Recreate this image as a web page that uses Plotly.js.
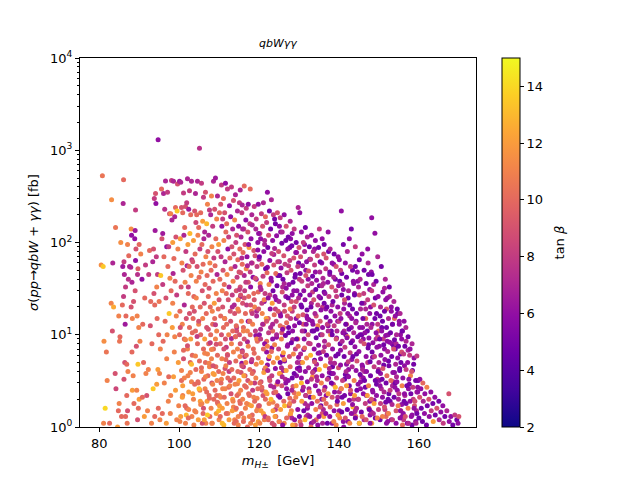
<!DOCTYPE html>
<html><head><meta charset="utf-8">
<script src="https://cdn.plot.ly/plotly-3.0.1.min.js"></script>
<style>html,body{margin:0;padding:0;background:#fff}#chart{width:640px;height:480px}</style>
</head><body><div id="chart"></div>
<script>
// ---- data (m_H± in GeV, sigma in fb, tan beta) ----
const mH_80 = [80.5,81.0,80.8,81.2,81.5,81.1,81.8,82.0,82.6,83.0,83.1,83.6,83.3,83.4,84.0,84.2,84.1,84.6,85.0,85.2,84.9,85.1,85.6,85.4,84.8,
86.1,86.0,85.9,86.3,86.2,86.6,86.1,85.8,86.5,86.7,86.4,86.9,86.2,86.6,87.1,87.0,87.3,87.6,87.1,87.4,87.2,86.9,88.0,88.1,87.9,88.2,88.6,88.0,88.3,88.2,88.5,88.3,88.7,89.1,89.0,88.9,89.2,89.1,89.6,89.0,89.5,89.3,89.7,89.4,89.6,90.0,89.8,89.9,90.0,89.7];
const sig_80 = [57,55,530,8.5,1.6,1.1,6.5,3.2,1.1,22,290,20,11,60,3.8,2.6,145,1.0,1.8,9.5,16,8.5,1.3,100,1.5,
480,265,55,45,62,33,26,21,13,16,5,4.8,3.3,1.3,1.5,1.1,40,55,95,72,4,2.2,140,120,54,37,23,20,15,6.5,3.6,2.5,1.8,225,135,110,85,64,45,30,16,7.5,4.8,2.5,1.2,2.0,1.6,12,95,52];
const tb_80 = [11.5,13.5,10.5,11.5,14,11,10.5,11,10,11,11.5,12.5,9,7,9,8.5,10.5,12,11,10,11,10.5,10,11.5,10,
10,7,6.5,7,8,8,8,10,6.5,10,9,10,9,10,9,10.5,7.5,7,11,10,11,10,11.5,6,7,7,9,9,11,10,11,12,10,8,6.5,6,9,6,7.5,9,11,9,13.5,11,9,12,10,11,10,9.5];

const mH_90 = [90.4,90.7,90.2,90.9,91.1,90.8,91.3,91.6,91.4,91.7,92.1,91.9,92.3,92.6,92.4,92.8,93.1,92.9,93.2,93.6,
93.4,93.7,93.5,93.9,94.1,93.8,94.2,94.0,94.3,94.6,94.4,93.9,94.5,94.7,94.4,94.75,94.9,95.1,94.8,95.2,95.0,95.3,
95.6,95.4,95.7,95.9,96.1,95.9,96.2,96.0,96.3,95.8,96.6,96.4,96.7,96.5,96.9,97.1,96.9,97.2,97.0,97.3,
96.8,97.6,97.4,97.7,97.5,97.4,97.9,98.1,97.9,98.2,98.0,98.3,97.8,98.6,98.4,98.7,98.5,98.4,98.8,98.6,
99.1,98.9,99.2,99.0,99.3,98.9,99.1,99.4,99.6,99.5,99.7,99.4,99.8,100.1,99.9];
const sig_90 = [75,40,8.5,13,5,2.1,1.3,57,25,3.8,1.5,2.2,4.2,82,45,12.5,1.1,23,8,85,
62,28,2.6,1.3,340,300,265,135,70,45,33,21,15,4.2,2.9,1300,10,3.8,1.6,1.2,23,7,
380,44,110,35,340,125,70,8.5,3.0,1.4,465,230,25,14,5.5,350,90,55,10,1.9,
1.1,205,90,41,17,3.5,2.2,470,205,175,30,12,1.4,460,100,67,46,22,6.5,3.5,
240,190,115,38,16,9.5,2.5,1.2,430,220,85,27,5,10,1.7];
const tb_90 = [11,6,11,10,10,10,12,8,10,11,11,9,11,10,8,9,11,10,10,9,
7,9,13.5,10,9,8,6,6.5,8,8,11,10,10,12,12,6,10,11,10,11,10.5,11,
10,13.5,9,8,7,6.5,10,10,11,10,7,7.5,9,10,11,8,6,10,11,11,
12,9,8,11,13.5,10,11,8,11,7,10,12,11,7,12,10,7,11,11,12,
10,7,9,10,11,11,12,11,9,13.5,11,8,12,10,11];

const mH_100 = [100.1,100.4,100.6,100.3,100.7,100.5,100.2,100.6,100.4,
101.1,100.9,101.2,101.0,101.3,100.8,101.1,100.9,
101.6,101.4,101.7,101.5,101.3,101.6,
102.1,101.9,102.2,102.0,102.3,101.8,102.1,102.2,101.9,
102.6,102.4,102.7,102.5,102.3,102.6,102.8,102.4,
103.1,102.9,103.2,103.0,103.3,102.9,103.1,103.2,
103.6,103.4,103.7,103.5,103.3,103.6,
104.1,103.9,104.2,104.0,104.3,103.8,104.1,104.2,103.9,
104.6,104.4,104.7,104.5,104.3,104.6,104.8,
105.1,104.9,105.2,105.0,105.3,104.9,105.1,105.2,104.8,
105.6,105.4,105.7,105.5,105.8,105.4,105.6,105.7,
106.1,105.9,106.2,106.0,106.3,105.9,106.1,106.2,106.0,
106.6,106.4,106.7,106.5,106.8,106.4,106.6,106.5,106.7,
107.1,106.9,107.2,107.0,107.3,106.9,107.1,107.2,107.0,
107.6,107.4,107.7,107.5,107.8,107.4,107.6,107.5,107.7,
108.1,107.9,108.2,108.0,108.3,107.9,108.1,108.2,108.0,
108.6,108.4,108.7,108.5,108.8,108.4,108.6,108.5,108.7,108.3,
109.1,108.9,109.2,109.0,109.3,108.9,109.1,109.2,109.0,109.3,
109.6,109.4,109.7,109.5,109.8,109.4,109.6,109.5,109.7,
110.1,109.9,110.2,110.0,110.3,109.9,110.1,110.0];
const sig_100 = [460,450,240,110,60,33,18,3.2,1.3,
345,210,120,50,21,13,5.5,2.2,
245,145,80,37,9,1.1,
490,270,95,56,28,15,7,3.6,1.6,
365,230,125,55,33,12,5,2.4,
460,200,65,44,20,9,3.1,1.3,
105,62,26,15,6,2,
340,220,165,75,38,18,11,4.2,1.5,
460,200,120,55,25,8,3,
1050,145,85,42,20,13,5.2,2.5,1.2,
440,210,95,48,30,10,4,1.8,
310,170,110,58,22,15,7,3.3,1.4,
350,130,70,35,17,9,5,2.6,1.1,
260,160,80,44,26,12,6.2,3.6,1.9,
225,120,60,32,20,8,4.5,2.2,1.3,
320,200,90,50,18,10,5.5,3,1.6,
460,150,68,38,22,13,7,3.8,2,1.1,
500,230,110,56,28,15,9,4.5,2.5,1.4,
320,180,80,45,19,11,6,3.2,1.8,
210,95,40,24,8,4,2.2,1.2];
const tb_100 = [6.5,7,9,12,11,9,10,10,12,
8,10,7,9,7,11,9,11,
9,10,8,11,10,11,
7,8,12,7,10,9,11,11,10,
8,6.5,13,10,8,10,10,12,
7,10,8,11,10,12,11,11,
12,9,10,10,10,11,
7,9,8.5,10,11,9,10,10,11,
7,10,11,9,11,10,10,
7.5,10,8,10,10,11,10,11,12,
8,10,10,11,9,10,11,11,
8,12,7,10,9,11,10,10,10,
9,7,11,10,10,12,10,11,11,
11,13,9,10,10,9,11,10,12,
8,7,11,9,10,10,11,10,10,
11,7,11,10,11,10,11,9,11,
7,8,8,10,12,10,10,12,10,11,
6.5,9,10,10,11,10,11,10,10,12,
7,11,9,7,10,11,10,11,10,
10,12,10,9,10,10,11,11];

const mH_110 = [110.6,110.4,110.7,110.5,110.8,110.4,110.6,110.7,110.5,110.8,
111.1,110.9,111.2,111.0,111.3,110.9,111.1,111.2,111.0,111.3,110.8,
111.6,111.4,111.7,111.5,111.8,111.4,111.6,111.7,111.5,111.8,
112.1,111.9,112.2,112.0,112.3,111.9,112.1,112.2,112.0,
112.6,112.4,112.7,112.5,112.8,112.4,112.6,112.7,112.5,
113.1,112.9,113.2,113.0,113.3,112.9,113.1,113.2,113.0,113.3,
113.6,113.4,113.7,113.5,113.8,113.4,113.6,113.7,113.5,113.8,
114.1,113.9,114.2,114.0,114.3,113.9,114.1,114.2,114.0,114.3,
114.6,114.4,114.7,114.5,114.8,114.4,114.6,114.7,114.5,114.8,
115.1,114.9,115.2,115.0,115.3,114.9,115.1,115.2,115.0,115.3,114.8,
115.3,115.7,115.5,115.8,115.4,115.6,115.3,115.7,115.4,115.6,
115.8,116.2,116.0,116.3,115.9,116.1,115.8,116.2,115.9,116.1,
116.3,116.7,116.5,116.8,116.4,116.6,116.3,116.7,116.4,116.6,
116.8,117.2,117.0,117.3,116.9,117.1,116.8,117.2,116.9,117.1,
117.3,117.7,117.5,117.8,117.4,117.6,117.3,117.7,117.4,117.6,
117.8,118.2,118.0,118.3,117.9,118.1,117.8,118.2,117.9,118.1,
118.3,118.7,118.5,118.8,118.4,118.6,118.3,118.7,118.4,
118.8,119.2,119.0,119.3,118.9,119.1,118.8,119.2,118.9,119.1,
119.3,119.7,119.5,119.8,119.4,119.6,119.3,119.7,119.4,
119.8,120.2,120.0,120.3,119.9,120.1,119.8,120.2,119.9];
const sig_110 = [420,260,150,70,30,16,10,5.5,3,1.6,
300,180,105,50,35,20,12,7,3.8,2.1,1.1,
440,210,130,62,28,15,9,4.6,2.6,1.4,
380,160,85,45,24,13,6,3.4,1.8,
250,115,68,33,18,10,5,2.8,1.2,
400,190,90,52,27,14,8,4.2,2.3,1.5,
285,140,75,38,21,11,6.5,3.4,1.9,1.1,
330,175,100,55,30,17,9.5,5.2,2.9,1.6,
220,120,65,42,24,12,7,4,2.2,1.3,
270,150,85,48,33,18,10,5.8,3.2,1.8,1.05,
370,210,115,58,27,14,8,4.6,2.5,1.4,
255,140,78,44,22,12,6.5,3.6,2,1.15,
410,175,95,52,30,17,9,5,2.8,1.6,
235,130,70,37,21,11,6,3.2,1.8,1.0,
260,160,88,48,26,14,7.5,4.2,2.3,1.3,
380,200,110,60,33,18,10,5.4,3,1.7,
155,82,42,24,13,7,3.8,2.1,1.2,
245,140,72,40,20,11,6.3,3.4,1.9,1.05,
180,100,55,29,16,8.5,4.8,2.6,1.5,
260,125,66,36,19,10,5.6,3,1.7];
const tb_110 = [8,9,6,8,11,10,9,11,10,12,
10,8,11,9,10,9,10,9,11,10,13,
6,9,10,7,10,11,9,11,11,10,
8,10,6,11,9,10,9,10,11,
6,8,10,7,9,11,8,11,12,
8,6,9,10,8,9,11,10,9,12,
9,7,9,11,7,10,11,10,11,10,
7,11,8,7,9,9,10,10,11,10,
7,9,10,8,11,8,11,10,10,11,
8,6,10,9,9,10,9,11,12,10,11,
7,8,7,10,9,11,9,9,11,10,
7,8,10,7,9,10,9,12,11,10,
10,6,9,11,8,10,9,11,10,11,
8,9,6,9,8,11,10,9,11,10,
6,8,12,8,10,9,11,10,10,11,
10,7,6,9,6,10,10,8,11,12,
7,9,6,9,11,10,10,11,10,
8,7,9,6,11,8,10,11,10,12,
8,6,8,10,7,10,11,10,11,
6,8,7,11,9,6,10,10,9];

const mH_120 = [120.6,120.4,120.7,120.5,120.8,120.4,120.6,120.7,120.5,
121.1,120.9,121.2,121.0,121.3,120.9,121.1,121.2,121.0,121.3,
121.6,121.4,121.7,121.5,121.8,121.4,121.6,121.7,121.5,
122.1,121.9,122.2,122.0,122.3,121.9,122.1,122.2,122.0,122.3,
122.6,122.4,122.7,122.5,122.8,122.4,122.6,122.7,122.5,
123.1,122.9,123.2,123.0,123.3,122.9,123.1,123.2,123.0,123.3,
123.6,123.4,123.7,123.5,123.8,123.4,123.6,123.7,123.5,
124.1,123.9,124.2,124.0,124.3,123.9,124.1,124.2,124.0,
124.6,124.4,124.7,124.5,124.8,124.4,124.6,124.7,124.5,
125.1,124.9,125.2,125.0,125.3,124.9,125.1,125.2,125.0,
125.3,125.7,125.5,125.8,125.4,125.6,125.3,125.7,125.4,
125.8,126.2,126.0,126.3,125.9,126.1,125.8,126.2,125.9,
126.3,126.7,126.5,126.8,126.4,126.6,126.3,126.7,126.4,
126.8,127.2,127.0,127.3,126.9,127.1,126.8,127.2,126.9,
127.3,127.7,127.5,127.8,127.4,127.6,127.3,127.7,
127.8,128.2,128.0,128.3,127.9,128.1,127.8,128.2,127.9,
128.3,128.7,128.5,128.8,128.4,128.6,128.3,128.7,128.4,
128.8,129.2,129.0,129.3,128.9,129.1,128.8,129.2,128.9,
129.3,129.7,129.5,129.8,129.4,129.6,129.3,129.7,
129.8,130.2,130.0,130.3,129.9,130.1,129.8,130.2,129.9,130.1];
const sig_120 = [205,110,58,31,17,9,5,2.7,1.5,
270,150,80,43,24,13,7,3.9,2.2,1.2,
190,95,52,28,15,8,4.4,2.4,1.3,
350,165,88,47,25,14,7.5,4.1,2.3,1.25,
220,120,64,35,19,10.5,5.8,3.2,1.8,
290,140,76,41,22,12,6.6,3.6,2,1.1,
200,105,57,30,16.5,9,5,2.7,1.5,
160,86,46,26,14,7.8,4.3,2.4,1.3,
210,118,62,34,18,10,5.6,3.1,1.7,
150,80,44,23,12.5,7,3.8,2.1,1.15,
185,98,53,29,16,9,5,2.8,1.55,
130,72,40,21,11.5,6.4,3.5,1.9,1.05,
200,105,58,32,18,9.8,5.4,3,1.7,
150,85,47,25,13.5,7.5,4.1,2.3,1.25,
115,64,35,19,10.5,5.8,3.2,1.8,
170,92,50,27,15,8.2,4.5,2.5,1.4,
125,68,37,20,11,6.2,3.4,1.9,1.05,
140,78,42,23,12.5,7,3.8,2.1,1.2,
100,55,30,16,9,5,2.8,1.55,
240,210,88,46,25,13.5,7.5,4.1,2.3,1.3];
const tb_120 = [8,6,10,7,11,8,12,10,12,
7,9,6,8,11,7,10,12,9,11,
10,7,5,8,12,6,11,12,8,
6,8,5,10,6,9,11,7,12,10,
5,9,6,11,6,8,12,9,11,
7,5,8,6,12,7,10,8,13,9,
8,6,9,5,10,6,11,7,12,
5,7,10,6,8,11,6,10,12,
9,6,8,5,9,7,12,6,10,
6,9,5,7,10,8,12,5,11,
8,5,6,9,6,11,5,9,12,
7,9,5,8,6,12,7,10,6,
6,5,8,6,9,5,11,6,13,
9,6,8,5,10,6,12,5,10,
5,8,6,11,5,9,6,11,
7,5,9,6,8,5,10,7,12,
6,9,5,8,6,11,5,9,12,
8,6,5,9,6,8,5,11,6,
5,8,6,10,5,7,12,6,
7,6,9,5,7,5,10,6,12,5];

const mH_130 = [130.6,130.4,130.7,130.5,130.8,130.4,130.6,130.7,130.5,
131.1,130.9,131.2,131.0,131.3,130.9,131.1,131.2,
131.6,131.4,131.7,131.5,131.8,131.4,131.6,131.7,131.5,
132.1,131.9,132.2,132.0,132.3,131.9,132.1,132.2,
132.6,132.4,132.7,132.5,132.8,132.4,132.6,132.7,
133.1,132.9,133.2,133.0,133.3,132.9,133.1,133.2,133.0,
133.6,133.4,133.7,133.5,133.8,133.4,133.6,133.7,
134.1,133.9,134.2,134.0,134.3,133.9,134.1,134.2,
134.6,134.4,134.7,134.5,134.8,134.4,134.6,134.7,
135.1,134.9,135.2,135.0,135.3,134.9,135.1,135.2,135.0,
135.3,135.7,135.5,135.8,135.4,135.6,135.3,
135.8,136.2,136.0,136.3,135.9,136.1,135.8,136.2,135.9,
136.3,136.7,136.5,136.8,136.4,136.6,136.3,136.7,
136.8,137.2,137.0,137.3,136.9,137.1,136.8,
137.3,137.7,137.5,137.8,137.4,137.6,137.3,137.7,
137.8,138.2,138.0,138.3,137.9,138.1,137.8,
138.3,138.7,138.5,138.8,138.4,138.6,138.3,138.7,
138.8,139.2,139.0,139.3,138.9,139.1,138.8,
139.3,139.7,139.5,139.8,139.4,139.6,139.3,
139.8,140.2,140.0,140.3,139.9,140.1,139.8];
const sig_130 = [130,70,38,21,11,6.2,3.4,1.9,1.05,
100,56,30,16.5,9,5,2.7,1.5,
145,80,44,24,13,7.2,4,2.2,1.2,
115,62,34,18.5,10,5.6,3.1,1.7,
90,49,27,14.5,8,4.4,2.4,1.3,
120,66,36,20,11,6,3.3,1.8,1.0,
80,43,24,13,7,3.9,2.1,1.15,
105,57,31,17,9.3,5.1,2.8,1.55,
72,39,21,11.5,6.3,3.5,1.9,1.05,
140,88,48,26,14,7.7,4.2,2.3,1.3,
62,34,18.5,10,5.5,3,1.65,
110,75,41,22,12,6.6,3.6,2,1.1,
95,52,28,15.5,8.5,4.6,2.5,1.4,
68,37,20,11,6,3.3,1.8,
130,48,26,14,7.8,4.3,2.3,1.3,
85,33,18,10,5.5,3,1.65,
60,42,23,12.5,7,3.8,2.1,1.15,
75,30,16,9,4.9,2.7,1.5,
55,20,11,6.2,3.4,1.9,1.05,
70,38,14,8,4.4,2.4,1.35];
const tb_130 = [6,9,8,5,7,7,6,12,8,
8,6,6,9,6,12,7,5,
5,7,9,6,6,10,6,8,13,
7,6,8,5,9,11,6,7,
5,9,6,6,8,7,11,6,
6,8,7,5,5,13,8,6,10,
7,5,9,6,6,8,12,7,
6,8,5,7,5,9,6,11,
9,6,8,5,6,7,10,6,
8,5,7,6,9,6,13,7,6,
5,7,6,8,6,11,9,
6,9,7,5,6,8,6,10,7,
5,8,6,5,7,12,9,6,
9,6,5,7,5,8,10,
6,5,8,6,9,7,12,6,
7,9,6,5,8,5,10,
6,7,5,8,6,6,9,11,
5,8,6,9,7,13,6,
9,6,7,5,8,5,11,
6,5,8,5,9,7,12];

const mH_140 = [140.6,140.4,140.7,140.5,140.8,140.4,140.6,140.7,
141.1,140.9,141.2,141.0,141.3,140.9,141.1,141.2,
141.6,141.4,141.7,141.5,141.8,141.4,141.6,
142.1,141.9,142.2,142.0,142.3,141.9,142.1,
142.6,142.4,142.7,142.5,142.8,142.4,142.6,142.7,
143.1,142.9,143.2,143.0,143.3,142.9,143.1,
143.6,143.4,143.7,143.5,143.8,143.4,
144.1,143.9,144.2,144.0,144.3,143.9,144.1,
144.6,144.4,144.7,144.5,144.8,144.4,
145.1,144.9,145.2,145.0,145.3,144.9,145.1,
145.3,145.7,145.5,145.8,145.4,145.6,
145.8,146.2,146.0,146.3,145.9,146.1,145.8,
146.3,146.7,146.5,146.8,146.4,146.6,
147.2,146.8,147.2,147.0,147.3,146.9,147.1,146.8,
147.3,147.7,147.5,147.8,147.4,147.6,
148.2,148.2,148.0,148.3,147.9,148.1,147.8,
148.3,148.7,148.5,148.8,148.4,148.6,
149.0,149.7,149.0,149.3,148.9,149.1,148.8,
149.3,149.7,149.5,149.8,149.4,149.6,
149.8,150.2,150.0,150.3,149.9];
const sig_140 = [220,50,27,15,8.5,4.7,2.6,1.45,
95,35,19,10.5,5.8,3.2,1.8,1.0,
60,24,13,7.3,4,2.2,1.25,
80,42,17,9.3,5.1,2.8,1.55,
110,30,21,11.5,6.4,3.5,1.95,1.1,
140,55,15,8.2,4.5,2.5,1.4,
38,19,10.5,5.8,3.2,1.75,
90,27,13.5,7.4,4.1,2.2,1.25,
48,17,9.5,5.2,2.9,1.6,
65,33,12,6.6,3.7,2,1.1,
40,22,8.5,4.7,2.6,1.45,
75,28,15,8,4.2,2.3,1.3,
50,19,10.5,5.8,3.2,1.8,
85,36,24,13,7.2,4,2.2,1.2,
60,17,9.2,5.1,2.8,1.55,
185,30,12,6.5,3.6,2,1.1,
45,21,8.2,4.5,2.5,1.4,
126,70,15,10.5,5.8,3.2,1.8,
38,13,7.3,4,2.2,1.25,
26,9,5,2.8,1.55];
const tb_140 = [6,8,5,6,7,6,11,5,
5,7,6,6,5,8,12,6,
6,9,5,8,7,5,9,
7,5,6,6,8,12,5,
6,7,5,5,8,6,6,11,
5,8,6,5,7,9,6,
6,5,7,5,11,6,
8,5,7,6,6,12,5,
6,5,5,9,6,7,
5,7,6,6,5,8,13,
7,5,8,6,6,5,
6,8,5,9,7,6,10,
5,7,6,6,5,8,
6,5,8,7,5,6,12,9,
7,6,6,5,11,5,
6,8,7,5,5,9,6,
5,9,6,8,6,7,
6,7,5,6,8,5,12,
5,8,6,5,6,11,
6,5,7,6,8];

const mH_150 = [150.6,150.4,150.7,150.5,150.8,150.4,
151.0,150.9,151.2,151.0,151.3,150.9,
151.6,151.4,151.7,151.5,151.8,151.4,
152.1,151.9,152.2,152.0,152.3,151.9,
152.6,152.4,152.7,152.5,152.8,152.4,
153.1,152.9,153.2,153.0,153.3,
153.75,153.4,153.7,153.5,153.8,153.4,
154.1,153.9,154.2,154.0,154.3,
154.6,154.4,154.7,154.5,154.8,
155.1,154.9,155.2,155.0,155.3,
155.3,155.7,155.5,155.8,155.4,
155.8,156.2,156.0,156.3,155.9,
156.3,156.75,156.5,156.8,156.4,156.6,
156.8,157.2,157.0,157.3,
157.3,157.7,157.5,157.8,157.4,
157.8,158.2,158.0,158.3,
158.3,158.7,158.5,158.8,
158.8,159.2,159.0,159.3,
159.5,159.7,159.5,
160.25,160.2,160.0];
const sig_150 = [55,20,11,6,3.3,1.8,
29,14,7.8,4.3,2.4,1.3,
40,18,9.8,5.4,3,1.65,
25,12,6.6,3.6,2,1.1,
33,15,8.3,4.6,2.5,1.4,
20,10.5,5.8,3.2,1.75,
23,13,7,3.9,2.1,1.2,
16,8.8,4.8,2.7,1.5,
19,10,5.6,3.1,1.7,
14,7.5,4.1,2.3,1.25,
17,9,5,2.8,1.5,
11,6.2,3.4,1.9,1.05,
14,12,7.5,4.2,2.3,1.3,
8.5,5,2.8,1.6,
9.5,6,3.3,1.9,1.1,
7,4,2.3,1.35,
8,4.8,2.7,1.6,
5.6,3.2,1.9,1.1,
5.9,2.4,1.4,
3.3,2.1,1.25];
const tb_150 = [5,7,6,6,5,8,
6,5,5,9,7,11,
7,5,6,6,5,9,
6,5,7,10,5,6,
5,7,6,5,8,11,
6,5,5,10,7,
7,5,9,6,5,8,
6,5,7,6,9,
5,7,6,6,11,
6,5,5,8,6,
7,6,5,11,6,
5,8,6,5,10,
6,7,5,8,6,9,
7,6,5,11,
5,8,6,6,7,
6,9,5,6,
7,5,8,6,
6,5,9,7,
8,6,5,
6,9,5];

const mH_160 = [160.5,160.6,161.0,161.1,160.9,161.5,161.4,162.0,162.1,161.9,162.5,162.6,163.0,163.1,163.5,163.6,164.0,164.1,164.5,165.0,
165.1,165.5,166.0,166.1,166.5,167.0,167.5,167.6,168.0,168.5,169.0,169.5,170.0,169.8];
const sig_160 = [2.6,1.6,3,1.9,1.15,2.3,1.4,2.7,1.7,1.05,2,1.3,2.4,1.5,1.8,1.15,2.1,1.35,1.6,1.9,
1.2,1.45,1.7,1.1,1.3,1.5,2.3,1.15,1.3,1.05,1.35,1.2,1.3,1.1];
const tb_160 = [6,5,10,7,5,6,6,11,5,5,9,6,6,8,5,12,6,5,9,5,
7,6,6,8,5,7,9,6,6,5,8,5,9,6];

// dense low-cross-section core (100-160 GeV, 1-25 fb)
const mH_core = [100.2,100.9,101.5,101.1,100.6,101.8,100.3,101.3,100.8,101.6,
102.3,102.8,103.4,102.1,103.7,102.6,103.1,103.9,102.4,103.3,
104.2,104.7,105.3,104.1,105.8,104.5,105.0,105.6,104.9,105.4,
106.3,106.9,107.5,106.1,107.8,106.6,107.1,107.6,106.4,107.3,
108.2,108.8,109.4,108.1,109.9,108.5,109.1,109.6,108.4,109.3,
110.3,110.9,111.5,110.1,111.8,110.6,111.2,111.7,110.4,111.4,
112.2,112.8,113.4,112.1,113.9,112.5,113.1,113.6,112.4,113.3,
114.3,114.9,115.5,114.1,115.8,114.6,115.2,115.7,114.4,115.4,
116.2,116.8,117.4,116.1,117.9,116.5,117.1,117.6,116.4,117.3,
118.3,118.9,119.5,118.1,119.8,118.6,119.2,119.7,118.4,119.4,
120.2,120.8,121.4,120.1,121.9,120.5,121.1,121.6,120.4,121.3,
122.3,122.9,123.5,122.1,123.8,122.6,123.2,123.7,122.4,123.4,
124.2,124.8,125.4,124.1,125.9,124.5,125.1,125.6,124.4,125.3,
126.3,126.9,127.5,126.1,127.8,126.6,127.2,127.7,126.4,127.4,
128.2,128.8,129.4,128.1,129.9,128.5,129.1,129.6,128.4,129.3,
130.3,130.9,131.5,130.1,131.8,130.6,131.2,131.7,130.4,131.4,
132.2,132.8,133.4,132.1,133.9,132.5,133.1,133.6,132.4,133.3,
134.3,134.9,135.5,134.1,135.8,134.6,135.2,135.7,134.4,135.4,
136.2,136.8,137.4,136.1,137.9,136.5,137.1,137.6,136.4,137.3,
138.3,138.9,139.5,138.1,139.8,138.6,139.2,139.7,138.4,139.4,
140.2,140.8,141.4,140.1,141.9,140.5,141.1,141.6,140.4,141.3,
142.3,142.9,143.5,142.1,143.8,142.6,143.2,143.7,142.4,143.4,
144.2,144.8,145.4,144.1,145.9,144.5,145.1,145.6,144.4,145.3,
146.3,146.9,147.5,146.1,147.8,146.6,147.2,147.7,146.4,147.4,
148.2,148.8,149.4,148.1,149.9,148.5,149.1,149.6,148.4,149.3,
150.3,150.9,151.5,150.1,151.8,150.6,151.2,151.7,150.4,151.4,
152.2,152.8,153.4,152.1,153.9,152.5,153.1,153.6,152.4,153.3,
154.3,154.9,155.5,154.1,155.8,154.6,155.2,155.7,154.4,155.4,
156.2,156.8,157.4,156.1,157.9,156.5,157.1,157.6,156.4,157.3,
158.3,158.9,159.5,158.1,159.8,158.6,159.2,159.7,158.4,159.4];
const sig_core = [1.15,2.8,1.7,6.8,4.1,1.35,12,3.4,2.1,8.8,
1.25,3.9,2.3,7.6,1.05,17,4.8,2.9,1.55,10.5,
1.45,3.1,1.9,5.9,1.1,9.6,2.6,4.4,14,1.75,
1.2,2.4,4.9,1.6,8.2,3.5,1.35,2.05,6.3,11.5,
1.1,3.7,2.2,6.9,1.5,4.6,12.8,1.85,2.9,7.9,
1.3,2.6,4.3,1.7,7.3,3.3,1.05,5.4,2.1,15,
1.4,3.2,2.0,6.1,1.2,4.0,9.1,1.65,2.7,20,
1.15,2.3,3.9,1.55,6.7,2.95,1.9,4.9,11,26,
1.25,2.7,1.75,4.5,1.1,3.6,8.4,2.2,5.8,14,
1.35,3.0,2.05,5.1,1.15,4.0,9.8,1.6,2.5,18,
1.1,2.5,4.2,1.7,6.5,3.1,1.4,2.0,11.5,23,
1.2,2.8,1.85,4.7,1.05,3.4,7.2,2.35,5.5,13,
1.3,2.2,3.8,1.55,6.0,2.9,1.15,4.4,9.4,17,
1.1,2.6,1.7,4.1,1.35,3.3,7.8,2.05,5.2,12,
1.25,2.35,3.6,1.5,5.7,2.75,1.05,4.3,8.9,15,
1.15,2.5,1.8,4.4,1.3,3.0,6.9,2.2,5.0,11,
1.35,2.1,3.5,1.6,5.3,2.6,1.1,4.0,8.1,14,
1.2,2.45,1.7,4.2,1.4,3.2,6.4,2.0,4.8,10,
1.3,2.2,3.4,1.55,5.0,2.7,1.1,3.9,7.4,12.5,
1.1,2.4,1.75,3.8,1.35,2.9,5.9,2.1,4.5,9.2,
1.25,2.1,3.3,1.5,4.8,2.6,1.15,3.7,6.8,11,
1.15,2.3,1.65,3.6,1.4,2.8,5.4,2.0,4.2,8.6,
1.3,2.0,3.1,1.5,4.5,2.5,1.1,3.5,6.2,10,
1.2,2.2,1.6,3.4,1.35,2.7,5.0,1.9,4.0,7.8,
1.1,1.95,2.9,1.45,4.2,2.4,1.25,3.3,5.7,9.0,
1.2,2.1,1.55,3.2,1.3,2.6,4.7,1.85,3.8,7.0,
1.15,1.9,2.8,1.4,3.9,2.3,1.2,3.1,5.2,8.0,
1.1,2.0,1.5,3.0,1.3,2.5,4.3,1.75,3.5,6.2,
1.2,1.8,2.6,1.4,3.6,2.2,1.1,2.9,4.6,6.8,
1.05,1.7,2.4,1.3,3.2,2.0,1.15,2.7,4.1,1.5];
const tb_core = [11,12,10,10,11,13,9,11,12,11,
10,11,12,9,11,9,13,10,11,10,
11,10,12,11,9,8,13,10,9,11,
12,10,11,9,8,11,13.5,10,11,9,
11,12,10,11,13,9,8,10,11,9,
10,11,9,12,8,11,13,10,11,8,
11,9,12,10,11,8,7,11,10,7,
10,11,9,12,7,11,10,6,9,6,
11,10,12,8,11,9,7,10,8,6,
10,8,11,7,12,9,6,11,8,7,
11,9,8,10,6,9,12,10,7,6,
10,7,11,6,9,8,6,9,6,7,
9,6,11,8,6,10,9,7,6,6,
11,6,9,7,10,7,6,10,6,5,
7,10,6,11,6,9,10,6,7,6,
10,6,7,5,8,13,6,6,7,5,
7,5,12,6,5,7,6,6,8,6,
10,6,5,6,9,7,5,6,7,5,
12,6,5,7,7,6,5,6,7,6,
6,6,10,5,7,8,5,7,5,6,
11,5,5,6,6,7,6,5,6,7,
6,6,13,5,7,5,6,8,6,6,
10,6,6,7,5,5,6,8,5,6,
7,5,9,6,6,5,8,6,7,5,
12,6,5,7,7,6,5,8,6,7,
5,6,8,6,10,7,5,5,6,6,
6,5,7,9,6,5,6,7,5,6,
6,7,10,5,6,6,5,6,7,5,
8,5,6,6,11,7,6,5,6,7,
5,9,7,6,5,8,6,6,5,7];

// intermediate cross-section band (114-156 GeV, 7-180 fb)
const mH_mid = [114.3,115.1,115.7,114.7,115.4,114.1,115.9,
116.3,117.1,117.7,116.7,117.4,116.1,117.9,
118.3,119.1,119.7,118.7,119.4,118.1,119.9,
120.3,121.1,121.7,120.7,121.4,120.1,121.9,
122.3,123.1,123.7,122.7,123.4,122.1,123.9,
124.3,125.1,125.7,124.7,125.4,124.1,125.9,
126.3,127.1,127.7,126.7,127.4,126.1,127.9,
128.3,129.1,129.7,128.7,129.4,128.1,129.9,
130.3,131.1,131.7,130.7,131.4,130.1,131.9,
132.3,133.1,133.7,132.7,133.4,132.1,133.9,
134.3,135.1,135.7,134.7,135.4,134.1,135.9,
136.3,137.1,137.7,136.7,137.4,136.1,137.9,
138.3,139.1,139.7,138.7,139.4,138.1,139.9,
140.3,141.1,141.7,140.7,141.4,140.1,141.9,
142.3,143.1,143.7,142.7,143.4,142.1,143.9,
144.3,145.1,145.7,144.7,145.4,144.1,145.9,
146.3,147.1,147.7,146.7,147.4,146.1,147.9,
148.3,149.1,149.7,148.7,149.4,148.1,149.9,
150.3,151.1,151.7,150.7,151.4,150.1,151.9,
152.3,153.1,153.7,152.7,153.4,152.1,153.9,
154.3,155.1,155.7,154.7,155.4,154.1,155.9];
const sig_mid = [12.5,31,68,19,47,9.5,140,
25,56,14,37,95,11,21,
17,41,83,28,9,60,125,
33,13,52,22,105,70,8.5,
15,38,74,27,11,54,180,
24,62,10.5,44,130,19,33,
36,16,88,26,56,12,110,
18,45,9,30,78,23,60,
27,13,50,20,95,40,16,
40,22,11,66,29,15,85,
16,34,60,12.5,25,48,20,
29,13,45,19,80,36,10,
21,40,14,58,26,11,34,
17,31,10,46,22,65,13,
25,12,36,16,50,9.5,28,
14,27,10,38,19,55,12,
22,11,31,15,45,9,20,
13,25,9.5,35,17,48,11,
16,9,24,12,32,7.5,19,
10,18,7.5,26,13,8.5,15,
8,13,6.5,17,10,7,11];
const tb_mid = [10,8,7,11,9,10,7,
9,7,10,8,6,11,9,
8,9,6,10,11,7,6,
7,10,6,8,7,5,10,
9,6,7,8,10,6,5,
6,7,9,5,6,8,7,
7,9,5,6,8,10,6,
8,5,10,6,7,9,5,
5,9,6,5,6,8,6,
6,7,5,5,8,6,6,
9,5,6,11,5,6,8,
5,8,6,6,5,7,12,
7,5,6,6,8,5,6,
8,6,5,5,7,6,9,
5,6,6,7,5,11,6,
6,9,5,6,7,5,6,
7,5,6,10,5,6,6,
6,5,8,7,5,6,10,
5,8,6,5,7,6,9,
6,6,5,7,8,6,10,
7,6,9,5,6,5,6];

const yTickVals = [1, 10, 100, 1000, 10000];
const yTickText = ['10<sup>0</sup>', '10<sup>1</sup>', '10<sup>2</sup>', '10<sup>3</sup>', '10<sup>4</sup>'];
const xTickVals = [80, 100, 120, 140, 160];
const cbTickVals = [2, 4, 6, 8, 10, 12, 14];

// matplotlib "plasma" colour map
const plasma = [[0.0,'#0d0887'],[0.1,'#41049d'],[0.2,'#6a00a8'],[0.3,'#8f0da4'],[0.4,'#b12a90'],
  [0.5,'#cc4778'],[0.6,'#e16462'],[0.7,'#f2844b'],[0.8,'#fca636'],[0.9,'#fcce25'],[1.0,'#f0f921']];

const mH = [].concat(mH_80, mH_90, mH_100, mH_core, mH_110, mH_mid, mH_120, mH_130, mH_140, mH_150, mH_160);
const sigma = [].concat(sig_80, sig_90, sig_100, sig_core, sig_110, sig_mid, sig_120, sig_130, sig_140, sig_150, sig_160);
const tanBeta = [].concat(tb_80, tb_90, tb_100, tb_core, tb_110, tb_mid, tb_120, tb_130, tb_140, tb_150, tb_160);

const font = {family: 'DejaVu Sans, sans-serif', size: 13, color: '#000'};

const trace = {
  type: 'scatter', mode: 'markers', x: mH, y: sigma,
  marker: {
    size: 5, color: tanBeta, colorscale: plasma, cmin: 2, cmax: 15,
    line: {width: 0},
    colorbar: {
      x: 1.0657, xanchor: 'left', xpad: 0, ypad: 0, y: 0.5, yanchor: 'middle',
      len: 1, lenmode: 'fraction', thickness: 18, thicknessmode: 'pixels',
      outlinecolor: '#000', outlinewidth: 1,
      tickmode: 'array', tickvals: cbTickVals, ticks: 'outside', ticklen: 4, tickcolor: '#000',
      tickfont: font
    }
  },
  hoverinfo: 'x+y'
};

const layout = {
  width: 640, height: 480,
  margin: {l: 80, r: 164, t: 58, b: 53},
  paper_bgcolor: '#fff', plot_bgcolor: '#fff',
  font: font,
  showlegend: false,
  xaxis: {
    range: [75.2, 174.3], tickmode: 'array', tickvals: xTickVals,
    ticks: 'outside', ticklen: 4, tickcolor: '#000',
    showline: true, mirror: true, linecolor: '#000', linewidth: 1,
    showgrid: false, zeroline: false, tickfont: font,
    title: {text: '<i>m</i><sub><i>H</i>±</sub>  [GeV]', font: font, standoff: 6}
  },
  yaxis: {
    type: 'log', range: [0, 4], tickmode: 'array', tickvals: yTickVals, ticktext: yTickText,
    ticks: 'outside', ticklen: 4, tickcolor: '#000',
    minor: {ticks: 'outside', ticklen: 2, tickcolor: '#000', dtick: 'D1', showgrid: false},
    showline: true, mirror: true, linecolor: '#000', linewidth: 1,
    showgrid: false, zeroline: false, tickfont: font,
    title: {text: '<i>σ</i>(<i>pp</i>→<i>qbW</i> + <i>γγ</i>) [fb]', font: font, standoff: 8}
  },
  annotations: [
    {text: '<i>qbWγγ</i>', xref: 'paper', yref: 'paper', x: 0.5, y: 1, yshift: 6,
     xanchor: 'center', yanchor: 'bottom', showarrow: false, font: {family: font.family, size: 11, color: '#000'}},
    {text: 'tan <i>β</i>', xref: 'paper', yref: 'paper', x: 1.212, y: 0.5, textangle: -90,
     xanchor: 'center', yanchor: 'middle', showarrow: false, font: font}
  ]
};

Plotly.newPlot('chart', [trace], layout, {staticPlot: true, displayModeBar: false});
</script>
</body></html>
